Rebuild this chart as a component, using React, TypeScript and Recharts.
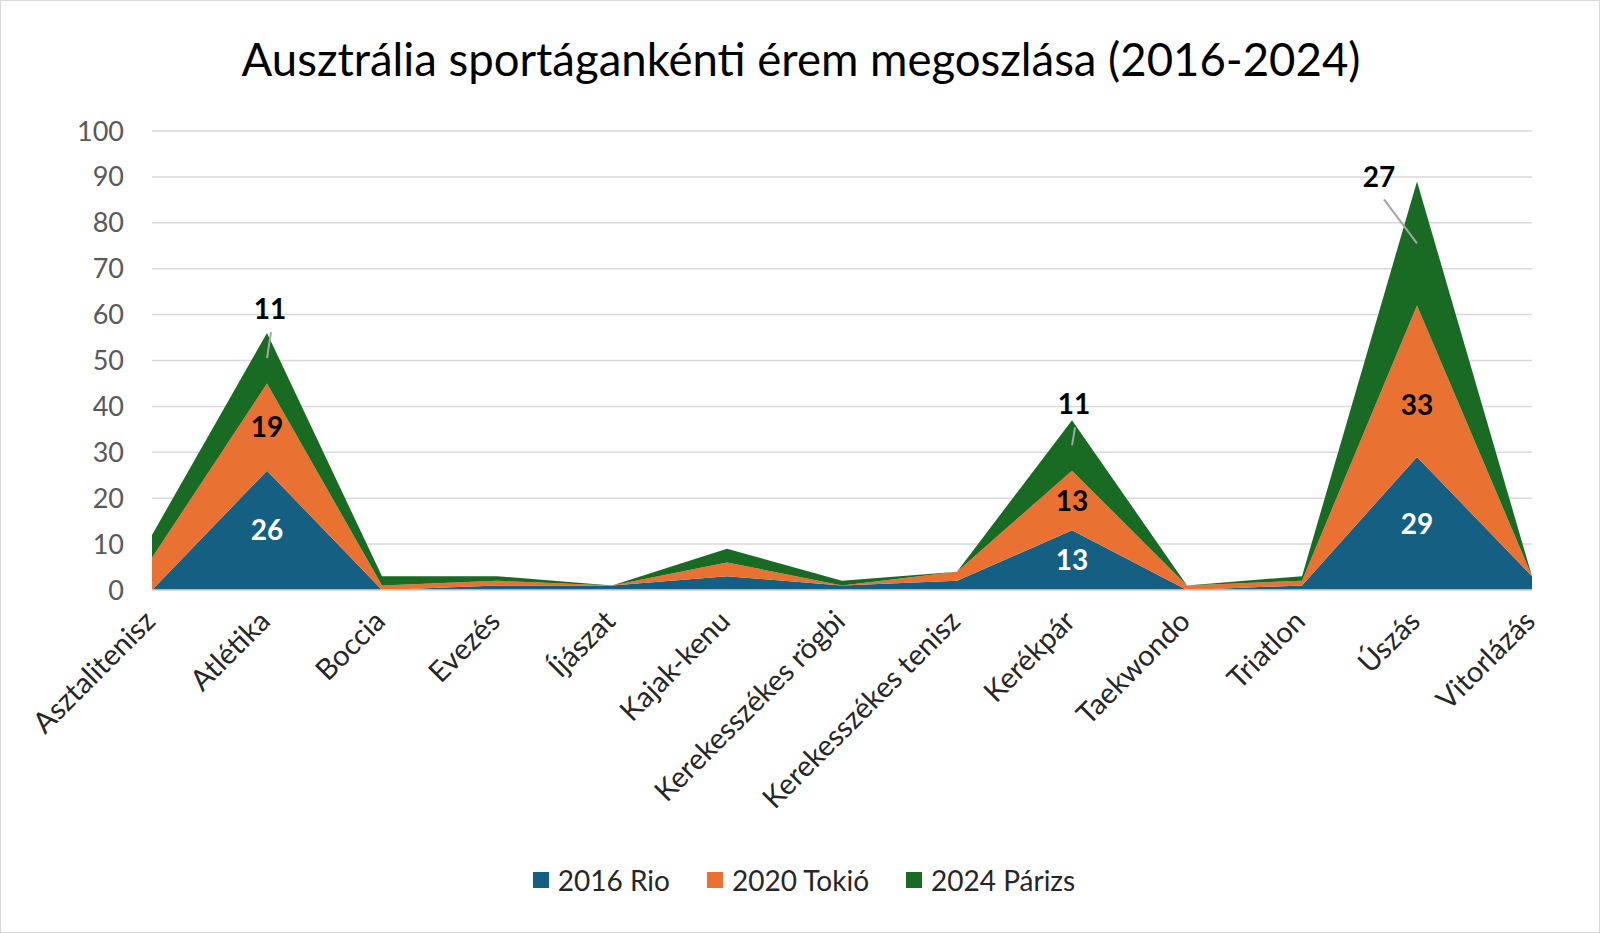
import React from "react";
import {
  ComposedChart,
  Area,
  Line,
  XAxis,
  YAxis,
  CartesianGrid,
  LabelList,
} from "recharts";

// Ausztrália paralimpiai érmei sportáganként, 2016 / 2020 / 2024
const categories = [
  "Asztalitenisz",
  "Atlétika",
  "Boccia",
  "Evezés",
  "Íjászat",
  "Kajak-kenu",
  "Kerekesszékes rögbi",
  "Kerekesszékes tenisz",
  "Kerékpár",
  "Taekwondo",
  "Triatlon",
  "Úszás",
  "Vitorlázás",
];
const rio2016 = [0, 26, 0, 1, 1, 3, 1, 2, 13, 0, 1, 29, 3];
const tokyo2020 = [7, 19, 1, 1, 0, 3, 0, 2, 13, 1, 1, 33, 0];
const paris2024 = [5, 11, 2, 1, 0, 3, 1, 0, 11, 0, 1, 27, 0];
const yTicks = [0, 10, 20, 30, 40, 50, 60, 70, 80, 90, 100];
const labelled = ["Atlétika", "Kerékpár", "Úszás"];

const series = [
  { key: "rio", name: "2016 Rio", color: "#156082", values: rio2016 },
  { key: "tokyo", name: "2020 Tokió", color: "#E97132", values: tokyo2020 },
  { key: "paris", name: "2024 Párizs", color: "#196B24", values: paris2024 },
];

const data = categories.map((cat, i) => ({
  cat,
  rio: rio2016[i],
  tokyo: tokyo2020[i],
  paris: paris2024[i],
  rioMid: rio2016[i] / 2,
  tokyoMid: rio2016[i] + tokyo2020[i] / 2,
  parisMid: rio2016[i] + tokyo2020[i] + paris2024[i] / 2,
}));

// where the top (green) labels sit relative to the middle of their band
const calloutOffset: Record<string, [number, number]> = {
  Atlétika: [3, -49],
  Kerékpár: [2, -41],
  Úszás: [-38, -67],
};
// small manual nudges of inner labels (Excel moved this one)
const innerShift: Record<string, number> = { Úszás: 24 };

const FONT = "Lato, 'Open Sans', sans-serif";

function makeLabel(values: number[], fill: string, callout = false, shift: Record<string, number> = {}) {
  return (props: any) => {
    const { x, y, index } = props;
    const cat = categories[index];
    if (!labelled.includes(cat)) return null;
    const v = values[index];
    if (!callout) {
      return (
        <text
          x={x}
          y={y + (shift[cat] ?? 0)}
          dy="0.36em"
          textAnchor="middle"
          fill={fill}
          fontSize={28}
          fontWeight={700}
          fontFamily={FONT}
        >
          {v}
        </text>
      );
    }
    const [dx, dy] = calloutOffset[cat] ?? [0, -45];
    const lx = x + dx;
    const ly = y + dy;
    return (
      <g>
        <line x1={x} y1={y} x2={lx + (dx < -10 ? 5 : 1)} y2={ly + 23} stroke="#a6a6a6" strokeWidth={2} />
        <text
          x={lx}
          y={ly}
          dy="0.36em"
          textAnchor="middle"
          fill="#000"
          fontSize={28}
          fontWeight={700}
          fontFamily={FONT}
        >
          {v}
        </text>
      </g>
    );
  };
}

function CatTick(props: any) {
  const { x, y, payload } = props;
  return (
    <text
      transform={`translate(${x + 5},${y + 25}) rotate(-45)`}
      textAnchor="end"
      fill="#262626"
      fontSize={29}
      fontFamily={FONT}
    >
      {payload.value}
    </text>
  );
}

export default function App() {
  return (
    <div
      style={{
        position: "absolute",
        left: 0,
        top: 0,
        width: 1600,
        height: 933,
        background: "#fff",
        border: "1px solid #d9d9d9",
        boxSizing: "border-box",
        fontFamily: FONT,
      }}
    >
      <div
        style={{
          position: "absolute",
          top: 29,
          left: 0,
          width: 1600,
          textAlign: "center",
          fontSize: 45.5,
          color: "#000",
          lineHeight: "58px",
        }}
      >
        Ausztrália sportágankénti érem megoszlása (2016-2024)
      </div>
      <div style={{ position: "absolute", left: -1, top: -1 }}>
        <ComposedChart
          width={1600}
          height={933}
          data={data}
          margin={{ top: 131, right: 68, bottom: 143, left: 0 }}
        >
          <CartesianGrid stroke="#d9d9d9" strokeWidth={1.5} vertical={false} />
          <XAxis
            dataKey="cat"
            interval={0}
            tickLine={false}
            axisLine={{ stroke: "#d9d9d9", strokeWidth: 1.5 }}
            height={200}
            tick={<CatTick />}
            padding={{ left: 0, right: 0 }}
          />
          <YAxis
            domain={[0, 100]}
            ticks={yTicks}
            width={152}
            tickLine={false}
            axisLine={false}
            tickMargin={22}
            tick={{ fontSize: 27, fill: "#595959", fontFamily: FONT }}
          />
          {series.map((s) => (
            <Area
              key={s.key}
              type="linear"
              dataKey={s.key}
              name={s.name}
              stackId="1"
              fill={s.color}
              fillOpacity={1}
              stroke="none"
              isAnimationActive={false}
            />
          ))}
          <Line dataKey="rioMid" stroke="none" dot={false} activeDot={false} isAnimationActive={false}>
            <LabelList content={makeLabel(rio2016, "#fff")} />
          </Line>
          <Line dataKey="tokyoMid" stroke="none" dot={false} activeDot={false} isAnimationActive={false}>
            <LabelList content={makeLabel(tokyo2020, "#000", false, innerShift)} />
          </Line>
          <Line dataKey="parisMid" stroke="none" dot={false} activeDot={false} isAnimationActive={false}>
            <LabelList content={makeLabel(paris2024, "#000", true)} />
          </Line>
        </ComposedChart>
      </div>
      <div
        style={{
          position: "absolute",
          top: 861,
          left: 3,
          width: 1600,
          display: "flex",
          justifyContent: "center",
          gap: 37,
          fontSize: 28,
          color: "#262626",
          lineHeight: "36px",
        }}
      >
        {series.map((s) => (
          <div key={s.key} style={{ display: "flex", alignItems: "center", gap: 9 }}>
            <span style={{ width: 16, height: 16, background: s.color, display: "inline-block" }} />
            <span>{s.name}</span>
          </div>
        ))}
      </div>
    </div>
  );
}
